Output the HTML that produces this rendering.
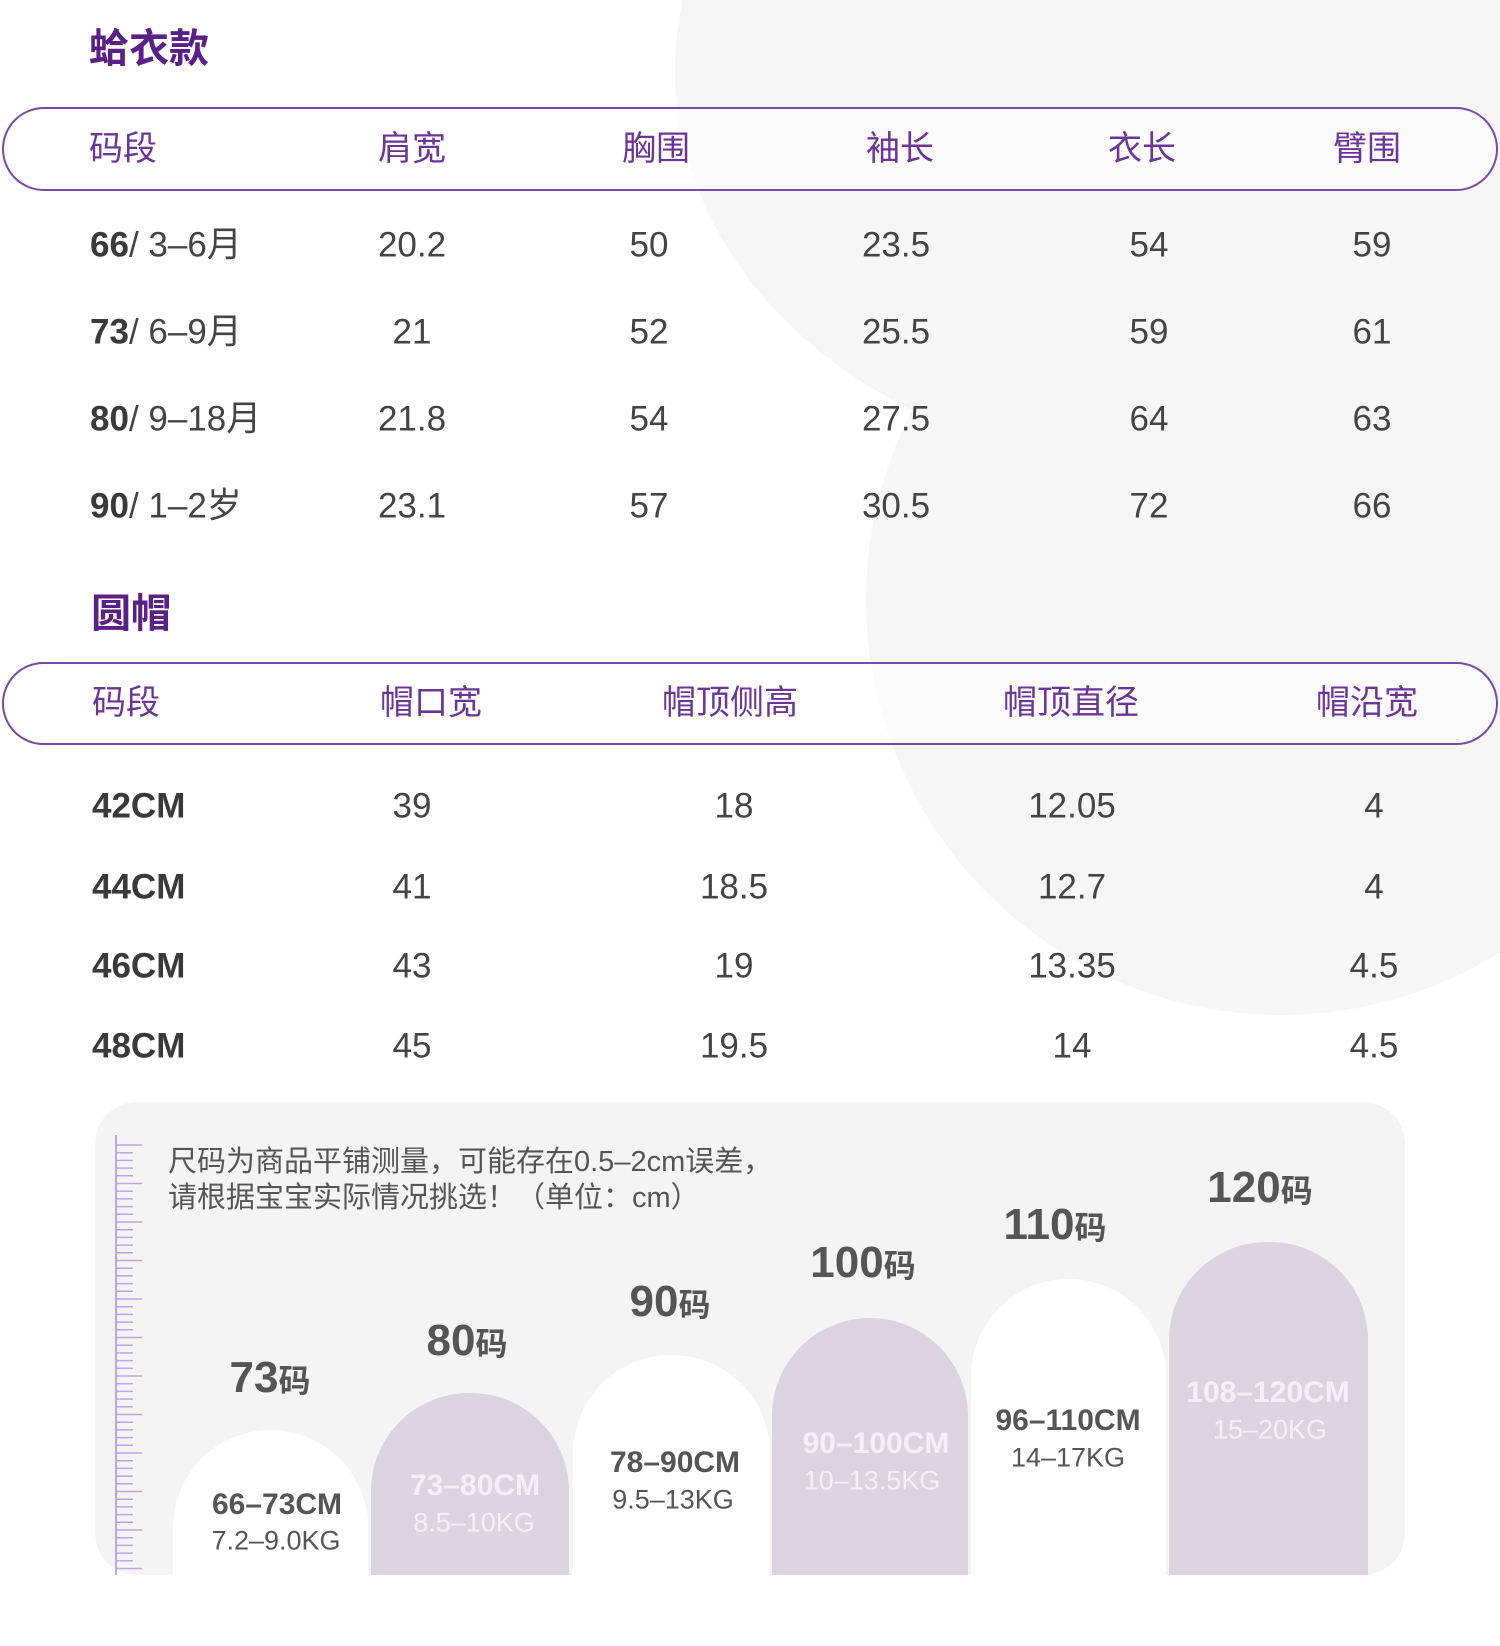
<!DOCTYPE html>
<html><head><meta charset="utf-8"><style>
*{margin:0;padding:0;box-sizing:border-box}
body{width:1500px;height:1646px;background:#fff;position:relative;overflow:hidden;font-family:"Liberation Sans","Noto Sans CJK SC",sans-serif;color:#444}
.a{position:absolute;white-space:nowrap;line-height:1}
.c{transform:translate(-50%,-50%)}
.l{transform:translateY(-50%)}
.title{font-size:40px;font-weight:bold;color:#5b2086}
.pill{position:absolute;left:2px;width:1496px;border:2.5px solid #7a48a6;border-radius:44px;background:rgba(255,255,255,0.55)}
.h{font-size:34px;color:#6b3597}
.d{font-size:35px;color:#444}
.b{font-weight:bold;color:#3a3a3a}
.arch{position:absolute;bottom:71px;border-radius:98px 98px 0 0}
.w{background:#fff}.p{background:#dcd3e0}
.sz{font-size:44px;font-weight:bold;color:#555}
.sz span{font-size:32px}
.t1{font-size:30px;font-weight:bold}
.t2{font-size:27px}
</style></head><body>
<div style="position:absolute;left:675px;top:-330px;width:1000px;height:800px;border-radius:50%;background:#f6f6f6"></div>
<div style="position:absolute;left:866px;top:185px;width:830px;height:830px;border-radius:50%;background:#f6f6f6"></div>

<div class="a l title" style="left:89px;top:49px">蛤衣款</div>
<div class="pill" style="top:107px;height:84px"></div>
<div class="a l h" style="left:89px;top:149px">码段</div>
<div class="a c h" style="left:412px;top:149px">肩宽</div>
<div class="a c h" style="left:656px;top:149px">胸围</div>
<div class="a c h" style="left:900px;top:149px">袖长</div>
<div class="a c h" style="left:1142px;top:149px">衣长</div>
<div class="a c h" style="left:1367px;top:149px">臂围</div>

<div class="a l d" style="left:90px;top:245px"><b class="b">66</b>/ 3–6月</div>
<div class="a l d" style="left:90px;top:332px"><b class="b">73</b>/ 6–9月</div>
<div class="a l d" style="left:90px;top:419px"><b class="b">80</b>/ 9–18月</div>
<div class="a l d" style="left:90px;top:506px"><b class="b">90</b>/ 1–2岁</div>

<div class="a c d" style="left:412px;top:245px">20.2</div><div class="a c d" style="left:649px;top:245px">50</div><div class="a c d" style="left:896px;top:245px">23.5</div><div class="a c d" style="left:1149px;top:245px">54</div><div class="a c d" style="left:1372px;top:245px">59</div>
<div class="a c d" style="left:412px;top:332px">21</div><div class="a c d" style="left:649px;top:332px">52</div><div class="a c d" style="left:896px;top:332px">25.5</div><div class="a c d" style="left:1149px;top:332px">59</div><div class="a c d" style="left:1372px;top:332px">61</div>
<div class="a c d" style="left:412px;top:419px">21.8</div><div class="a c d" style="left:649px;top:419px">54</div><div class="a c d" style="left:896px;top:419px">27.5</div><div class="a c d" style="left:1149px;top:419px">64</div><div class="a c d" style="left:1372px;top:419px">63</div>
<div class="a c d" style="left:412px;top:506px">23.1</div><div class="a c d" style="left:649px;top:506px">57</div><div class="a c d" style="left:896px;top:506px">30.5</div><div class="a c d" style="left:1149px;top:506px">72</div><div class="a c d" style="left:1372px;top:506px">66</div>

<div class="a l title" style="left:91px;top:614px">圆帽</div>
<div class="pill" style="top:662px;height:83px"></div>
<div class="a l h" style="left:92px;top:703px">码段</div>
<div class="a c h" style="left:431px;top:703px">帽口宽</div>
<div class="a c h" style="left:730px;top:703px">帽顶侧高</div>
<div class="a c h" style="left:1071px;top:703px">帽顶直径</div>
<div class="a c h" style="left:1367px;top:703px">帽沿宽</div>

<div class="a l d b" style="left:92px;top:806px">42CM</div>
<div class="a l d b" style="left:92px;top:887px">44CM</div>
<div class="a l d b" style="left:92px;top:966px">46CM</div>
<div class="a l d b" style="left:92px;top:1046px">48CM</div>
<div class="a c d" style="left:412px;top:806px">39</div><div class="a c d" style="left:734px;top:806px">18</div><div class="a c d" style="left:1072px;top:806px">12.05</div><div class="a c d" style="left:1374px;top:806px">4</div>
<div class="a c d" style="left:412px;top:887px">41</div><div class="a c d" style="left:734px;top:887px">18.5</div><div class="a c d" style="left:1072px;top:887px">12.7</div><div class="a c d" style="left:1374px;top:887px">4</div>
<div class="a c d" style="left:412px;top:966px">43</div><div class="a c d" style="left:734px;top:966px">19</div><div class="a c d" style="left:1072px;top:966px">13.35</div><div class="a c d" style="left:1374px;top:966px">4.5</div>
<div class="a c d" style="left:412px;top:1046px">45</div><div class="a c d" style="left:734px;top:1046px">19.5</div><div class="a c d" style="left:1072px;top:1046px">14</div><div class="a c d" style="left:1374px;top:1046px">4.5</div>

<div style="position:absolute;left:95px;top:1102px;width:1310px;height:473px;background:#f4f4f5;border-radius:42px"></div>
<svg style="position:absolute;left:110px;top:1130px" width="40" height="445">
<line x1="6" y1="5" x2="6" y2="445" stroke="#b9a6ee" stroke-width="2"/>
<g stroke="#b9a6ee" stroke-width="1.5" id="tk"></g>
</svg>
<div class="a" style="left:168px;top:1144px;font-size:29px;color:#555;line-height:36px">尺码为商品平铺测量，可能存在0.5–2cm误差，<br>请根据宝宝实际情况挑选！（单位：cm）</div>

<div class="arch w" style="left:173px;width:195px;height:145px"></div>
<div class="arch p" style="left:371px;width:198px;height:182px"></div>
<div class="arch w" style="left:573px;width:197px;height:220px"></div>
<div class="arch p" style="left:772px;width:196px;height:257px"></div>
<div class="arch w" style="left:971px;width:195px;height:296px"></div>
<div class="arch p" style="left:1169px;width:199px;height:333px"></div>

<div class="a c sz" style="left:270px;top:1378px">73<span>码</span></div>
<div class="a c sz" style="left:467px;top:1341px">80<span>码</span></div>
<div class="a c sz" style="left:670px;top:1302px">90<span>码</span></div>
<div class="a c sz" style="left:863px;top:1263px">100<span>码</span></div>
<div class="a c sz" style="left:1055px;top:1225px">110<span>码</span></div>
<div class="a c sz" style="left:1260px;top:1188px">120<span>码</span></div>

<div class="a c t1" style="left:277px;top:1505px;color:#555">66–73CM</div><div class="a c t2" style="left:276px;top:1541px;color:#555">7.2–9.0KG</div>
<div class="a c t1" style="left:475px;top:1486px;color:#f4eff6">73–80CM</div><div class="a c t2" style="left:474px;top:1523px;color:#f4eff6">8.5–10KG</div>
<div class="a c t1" style="left:675px;top:1463px;color:#555">78–90CM</div><div class="a c t2" style="left:673px;top:1500px;color:#555">9.5–13KG</div>
<div class="a c t1" style="left:876px;top:1444px;color:#f4eff6">90–100CM</div><div class="a c t2" style="left:872px;top:1481px;color:#f4eff6">10–13.5KG</div>
<div class="a c t1" style="left:1068px;top:1421px;color:#555">96–110CM</div><div class="a c t2" style="left:1068px;top:1458px;color:#555">14–17KG</div>
<div class="a c t1" style="left:1268px;top:1393px;color:#f4eff6">108–120CM</div><div class="a c t2" style="left:1270px;top:1430px;color:#f4eff6">15–20KG</div>

<script>
var g=document.getElementById('tk'),s='';
for(var i=0;i<56;i++){var y=15+i*7.7;var L=(i%5==0)?32:23;s+='<line x1="6" y1="'+y+'" x2="'+L+'" y2="'+y+'"/>';}
g.innerHTML=s;
</script>
</body></html>
